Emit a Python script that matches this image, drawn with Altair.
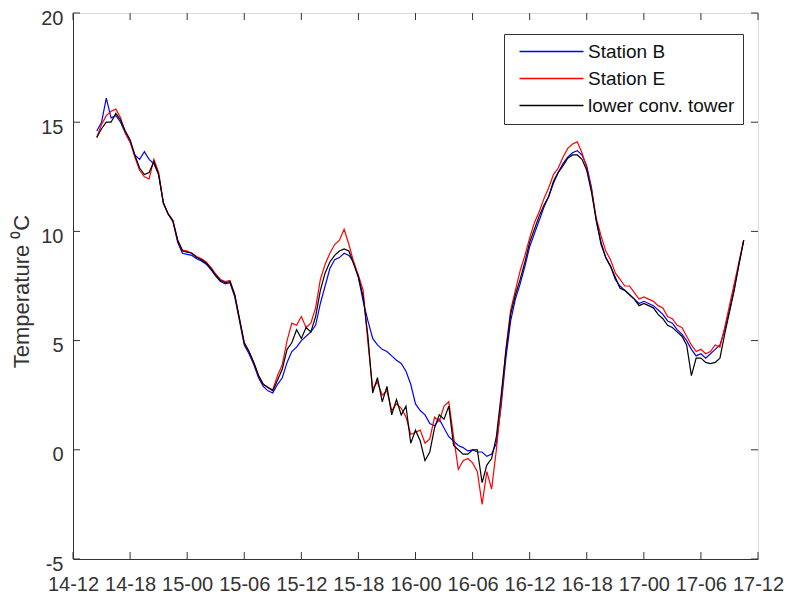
import json
import altair as alt
import pandas as pd

# ---------------- data ----------------
# hours after 14-12 (day 14, 12:00), sampled every half hour
hours = [2.5 + 0.5 * i for i in range(137)]

station_b = [
    14.6, 15.0, 16.1, 15.2, 15.3, 15.0, 14.5, 14.1, 13.5, 13.3, 13.65,
    13.3, 13.1, 12.6, 11.3, 10.8, 10.45, 9.5, 9.0, 8.95, 8.9, 8.75,
    8.65, 8.5, 8.25, 7.95, 7.7, 7.6, 7.65, 7.0, 5.9, 4.8, 4.4,
    3.9, 3.3, 2.9, 2.7, 2.6, 3.0, 3.3, 4.0, 4.5, 4.7, 5.0,
    5.2, 5.4, 5.7, 6.7, 7.5, 8.3, 8.7, 8.8, 9.0, 8.9, 8.6,
    7.9, 6.8, 5.9, 5.1, 4.8, 4.6, 4.5, 4.3, 4.1, 3.95, 3.6,
    3.0, 2.1, 1.8, 1.6, 1.2, 1.1, 1.4, 1.0, 0.6, 0.4, 0.2,
    0.1, -0.05, 0.0, -0.1, -0.1, -0.3, -0.2, 0.3, 2.0, 4.2, 5.9,
    6.9, 7.6, 8.4, 9.3, 9.9, 10.5, 11.1, 11.6, 12.2, 12.7, 13.1,
    13.4, 13.6, 13.7, 13.5, 13.0, 12.0, 10.5, 9.4, 8.8, 8.4, 7.8,
    7.5, 7.3, 7.1, 6.9, 6.7, 6.8, 6.7, 6.6, 6.4, 6.2, 5.9,
    5.8, 5.5, 5.3, 5.0, 4.6, 4.3, 4.4, 4.2, 4.4, 4.6, 4.8,
    5.5, 6.4, 7.4, 8.5, 9.6,
]

station_e = [
    14.3, 14.9, 15.3, 15.5, 15.6, 15.2, 14.5, 14.1, 13.4, 12.8, 12.5,
    12.4, 13.3, 12.7, 11.3, 10.8, 10.5, 9.6, 9.15, 9.1, 9.0, 8.85,
    8.75, 8.6, 8.35, 8.05, 7.8, 7.7, 7.75, 7.1, 6.0, 4.9, 4.5,
    4.0, 3.4, 3.0, 2.85, 2.75, 3.4, 3.9, 5.0, 5.8, 5.7, 6.1,
    5.6, 5.8, 6.5, 7.8, 8.5, 9.0, 9.4, 9.6, 10.1, 9.4, 8.6,
    8.0, 7.3, 4.9, 2.8, 3.1, 2.5, 2.7, 1.8, 2.1, 1.9, 1.5,
    0.7, 0.8, 0.9, 0.3, 0.5, 1.5, 1.3, 2.0, 2.2, 0.6, -0.9,
    -0.5, -0.4, -0.6, -1.0, -2.5, -1.0, -1.8, 0.0, 2.2, 4.6, 6.4,
    7.3, 8.2, 8.9, 9.7, 10.4, 10.9, 11.5, 12.0, 12.6, 12.9, 13.4,
    13.8, 14.0, 14.1, 13.6, 12.9, 11.9, 10.6, 9.8, 9.1, 8.7, 8.1,
    7.8, 7.5, 7.5, 7.2, 6.9, 7.0, 6.9, 6.8, 6.6, 6.5, 6.1,
    6.0, 5.7, 5.6, 5.2, 4.8, 4.5, 4.6, 4.4, 4.5, 4.8, 4.7,
    5.6, 6.6, 7.6, 8.6, 9.6,
]

lower_tower = [
    14.3, 14.7, 15.0, 15.0, 15.4, 15.1, 14.6, 14.2, 13.5, 12.9, 12.6,
    12.7, 13.2, 12.6, 11.3, 10.8, 10.5, 9.6, 9.1, 9.05, 9.0, 8.8,
    8.7, 8.55, 8.3, 8.0, 7.75, 7.65, 7.7, 7.1, 6.0, 4.9, 4.5,
    4.0, 3.4, 3.0, 2.85, 2.7, 3.2, 3.7, 4.6, 4.9, 5.5, 5.1,
    5.6, 5.4, 6.1, 7.3, 8.1, 8.6, 8.9, 9.1, 9.2, 9.1, 8.5,
    7.9, 7.0, 5.2, 2.6, 3.3, 2.2, 2.9, 1.6, 2.3, 1.6, 2.0,
    0.3, 0.9, 0.4, -0.5, -0.1, 1.0, 1.6, 1.4, 2.0, 0.2, 0.0,
    -0.2, -0.2, 0.0, 0.0, -1.5, -0.7, -0.4, 0.6, 2.5, 4.5, 6.2,
    7.1, 7.8, 8.6, 9.5, 10.1, 10.7, 11.2, 11.6, 12.3, 12.7, 13.0,
    13.35, 13.5, 13.5, 13.3, 12.8, 11.8, 10.5, 9.5, 8.8, 8.4, 7.9,
    7.4, 7.3, 7.1, 6.9, 6.6, 6.7, 6.6, 6.5, 6.2, 6.0, 5.7,
    5.6, 5.4, 5.2, 4.8, 3.4, 4.2, 4.2, 4.0, 3.95, 4.0, 4.2,
    5.3, 6.3, 7.3, 8.5, 9.6,
]

series_names = ["Station B", "Station E", "lower conv. tower"]
series_colors = ["#0000ff", "#ff0000", "#000000"]

x_tick_values = [0, 6, 12, 18, 24, 30, 36, 42, 48, 54, 60, 66, 72]
x_tick_labels = ["14-12", "14-18", "15-00", "15-06", "15-12", "15-18", "16-00",
                 "16-06", "16-12", "16-18", "17-00", "17-06", "17-12"]
y_tick_values = [-5, 0, 5, 10, 15, 20]
y_tick_labels = ["-5", "0", "5", "10", "15", "20"]

# ---------------- build tables ----------------
rows = []
for name, vals in zip(series_names, [station_b, station_e, lower_tower]):
    for h, v in zip(hours, vals):
        rows.append({"hour": h, "temp": v, "series": name})
df = pd.DataFrame(rows)
xt = pd.DataFrame({"hour": x_tick_values})
yt = pd.DataFrame({"temp": y_tick_values})

W, H = 685, 546
FONT = "Liberation Sans, Arial, sans-serif"
AX = "#333333"
TICK = 7

x_scale = alt.Scale(domain=[0, 72], nice=False, zero=False)
y_scale = alt.Scale(domain=[-5, 20], nice=False, zero=False)

x_label_expr = json.dumps(x_tick_labels) + "[round(datum.value / 6)]"
y_label_expr = json.dumps(y_tick_labels) + "[round((datum.value + 5) / 5)]"

x_axis = alt.Axis(values=x_tick_values, labelExpr=x_label_expr, ticks=False, grid=False,
                  domainColor=AX, labelColor=AX, labelFont=FONT, labelFontSize=20,
                  labelPadding=15, labelFlush=False, labelOverlap=False, title=None)
y_axis = alt.Axis(values=y_tick_values, labelExpr=y_label_expr, ticks=False, grid=False,
                  domainColor=AX, labelColor=AX, labelFont=FONT, labelFontSize=20,
                  labelPadding=10, labelFlush=False, labelOffset=5,
                  title="Temperature \u2070C", titleFont=FONT, titleFontSize=22,
                  titleFontWeight="normal", titleColor=AX, titleAngle=270,
                  titleX=-52, titleY=278, titleBaseline="middle", titleAlign="center")

color = alt.Color(
    "series:N",
    scale=alt.Scale(domain=series_names, range=series_colors),
    legend=alt.Legend(title=None, orient="none", legendX=431, legendY=21,
                      direction="vertical", symbolType="M-4,0H4", symbolSize=256,
                      symbolStrokeWidth=1.3, labelFont=FONT, labelFontSize=19,
                      labelColor="#111111", labelOffset=27, symbolOffset=30,
                      padding=8, rowPadding=7, strokeColor=AX, fillColor="white",
                      labelLimit=400),
)

x_enc = alt.X("hour:Q", scale=x_scale, axis=x_axis)
y_enc = alt.Y("temp:Q", scale=y_scale, axis=y_axis)

layers = []
for name in series_names:
    layers.append(
        alt.Chart(df)
        .transform_filter(alt.datum.series == name)
        .mark_line(strokeWidth=1.2)
        .encode(x=x_enc, y=y_enc, color=color, order="hour:Q")
    )

top_ticks = alt.Chart(xt).mark_rule(color=AX).encode(x=x_enc, y=alt.value(0), y2=alt.value(TICK))
bottom_ticks = alt.Chart(xt).mark_rule(color=AX).encode(x=x_enc, y=alt.value(H), y2=alt.value(H - TICK))
left_ticks = alt.Chart(yt).mark_rule(color=AX).encode(y=y_enc, x=alt.value(0), x2=alt.value(TICK))
right_ticks = alt.Chart(yt).mark_rule(color=AX).encode(y=y_enc, x=alt.value(W), x2=alt.value(W - TICK))

chart = (
    alt.layer(*layers, top_ticks, bottom_ticks, left_ticks, right_ticks)
    .properties(width=W, height=H,
                autosize=alt.AutoSizeParams(type="none"),
                padding={"left": 65, "top": 5, "right": 26, "bottom": 35})
    .configure_view(stroke=AX, strokeWidth=1)
    .configure(background="white")
)

chart.save("out.html", embed_options={"renderer": "svg", "actions": False})
